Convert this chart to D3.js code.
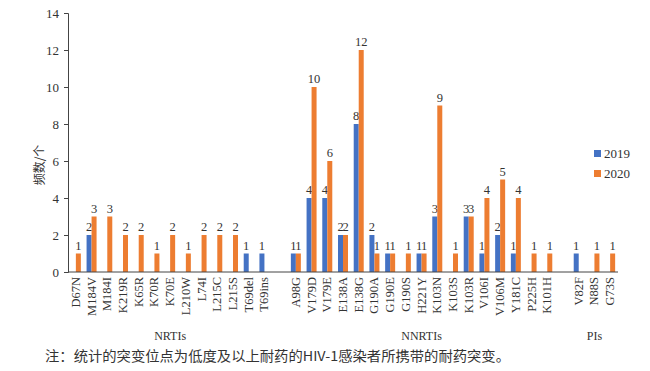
<!DOCTYPE html>
<html>
<head>
<meta charset="utf-8">
<script src="https://cdn.jsdelivr.net/npm/d3@7"></script>
<style>
  body { margin: 0; background: #fff; }
  text { font-family: "Liberation Serif", "DejaVu Serif", serif; fill: #333; }
</style>
</head>
<body>
<svg width="650" height="371"></svg>
<script>
const svg = d3.select('svg');

// mutation sites, grouped; "gap" entries are empty spacer slots between groups
const sites = ['D67N','M184V','M184I','K219R','K65R','K70R','K70E','L210W','L74I','L215C','L215S','T69del','T69ins',
  'gap1',
  'A98G','V179D','V179E','E138A','E138G','G190A','G190E','G190S','H221Y','K103N','K103S','K103R','V106I','V106M','Y181C','P225H','K101H',
  'gap2',
  'V82F','N88S','G73S'];
const v2019 = [0,2,0,0,0,0,0,0,0,0,0,1,1, 0, 1,4,4,2,8,2,1,0,1,3,0,3,1,2,1,0,0, 0, 1,0,0];
const v2020 = [1,3,3,2,2,1,2,1,2,2,2,0,0, 0, 1,10,6,2,12,1,1,1,1,9,1,3,4,5,4,1,1, 0, 0,1,1];
const groups = [
  {name: 'NRTIs', from: 'D67N', to: 'T69ins'},
  {name: 'NNRTIs', from: 'A98G', to: 'K101H'},
  {name: 'PIs', from: 'V82F', to: 'G73S'}
];
const years = ['2019', '2020'];
const colors = ['#4472c4', '#ed7d31'];

const margin = {top: 13, left: 68, right: 32, bottom: 99};
const innerWidth = 650 - margin.left - margin.right;
const innerHeight = 371 - margin.top - margin.bottom;

const xScale = d3.scaleBand().domain(sites).range([0, innerWidth]);
const yScale = d3.scaleLinear().domain([0, 14]).range([innerHeight, 0]);
const barW = 5;

const g = svg.append('g').attr('transform', `translate(${margin.left},${margin.top})`);

// y axis
const yAxisG = g.append('g').call(d3.axisLeft(yScale).tickValues(d3.range(0, 15, 2)).tickSize(4).tickPadding(5));
yAxisG.select('.domain').attr('stroke', '#444');
yAxisG.selectAll('line').attr('stroke', '#444');
yAxisG.selectAll('text').attr('font-size', 13).attr('fill', '#333')
  .style('font-family', '"Liberation Serif", serif');

// bars
const series = [v2019, v2020];
series.forEach((vals, si) => {
  const data = sites.map((s, i) => ({site: s, v: vals[i]})).filter(d => d.v > 0);
  const xOff = d => xScale(d.site) + xScale.bandwidth() / 2 + (si === 0 ? -barW : 0);
  g.selectAll(null).data(data).enter().append('rect')
    .attr('x', xOff)
    .attr('y', d => yScale(d.v))
    .attr('width', barW)
    .attr('height', d => innerHeight - yScale(d.v))
    .attr('fill', colors[si]);
  g.selectAll(null).data(data).enter().append('text')
    .attr('x', d => xOff(d) + barW / 2)
    .attr('y', d => yScale(d.v) - 4)
    .attr('text-anchor', 'middle')
    .attr('font-size', 12.5)
    .text(d => d.v);
});

// x axis line
g.append('line')
  .attr('x1', 0).attr('x2', innerWidth)
  .attr('y1', innerHeight).attr('y2', innerHeight)
  .attr('stroke', '#444');

// x tick labels, rotated
g.selectAll('.xlab').data(sites.filter(s => !s.startsWith('gap'))).enter().append('text')
  .attr('class', 'xlab')
  .attr('transform', d => `translate(${xScale(d) + xScale.bandwidth() / 2 + 4},${innerHeight + 5}) rotate(-90)`)
  .attr('text-anchor', 'end')
  .attr('font-size', 12.5)
  .text(d => d);

// group labels
groups.forEach(gr => {
  const cx = (xScale(gr.from) + xScale(gr.to) + xScale.bandwidth()) / 2;
  g.append('text')
    .attr('x', cx)
    .attr('y', innerHeight + 68)
    .attr('text-anchor', 'middle')
    .attr('font-size', 12)
    .text(gr.name);
});

// y axis title
svg.append('text')
  .attr('transform', 'translate(44,165) rotate(-90)')
  .attr('text-anchor', 'middle')
  .attr('font-size', 12)
  .attr('fill', '#555')
  .style('font-family', '"Noto Sans CJK SC", sans-serif')
  .text('频数/个');

// legend
years.forEach((y, i) => {
  svg.append('rect').attr('x', 594).attr('y', 150 + i * 20).attr('width', 7).attr('height', 7).attr('fill', colors[i]);
  svg.append('text').attr('x', 604).attr('y', 158 + i * 20).attr('font-size', 13).text(y);
});

// note
svg.append('text')
  .attr('x', 45)
  .attr('y', 361)
  .attr('font-size', 13.5)
  .attr('textLength', 465)
  .attr('lengthAdjust', 'spacingAndGlyphs')
  .style('font-family', '"Noto Sans CJK SC", sans-serif')
  .text('注：统计的突变位点为低度及以上耐药的HIV-1感染者所携带的耐药突变。');
</script>
</body>
</html>
